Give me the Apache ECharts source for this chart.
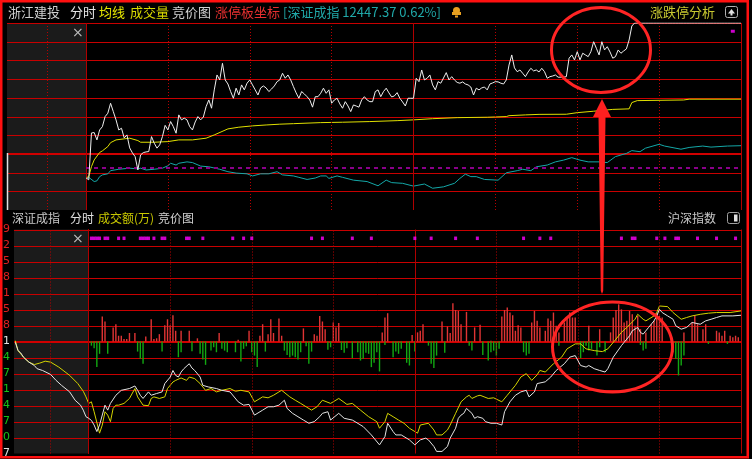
<!DOCTYPE html>
<html>
<head>
<meta charset="utf-8">
<script src="https://cdn.jsdelivr.net/npm/echarts@6.0.0/dist/echarts.min.js"></script>
<style>
html,body{margin:0;padding:0;background:#000;}
#chart{width:752px;height:459px;}
</style>
</head>
<body>
<div id="chart"></div>
<script>
// ================= DATA =================
// Top panel: 浙江建投 change vs previous close (%), one value per minute, 0 = 09:30 ... 240 = 15:00
const priceChange = [
 -1.83,-1.98,1.60,1.63,1.07,1.83,2.08,2.85,3.11,3.87,
 3.23,2.60,1.83,1.96,1.22,1.45,0.46,0.08,-0.21,-1.22,
 -0.08,0.10,0.15,0.18,1.32,0.82,0.44,0.69,1.32,2.18,
 1.83,2.47,2.08,1.58,2.98,2.60,2.73,2.60,2.08,1.83,
 2.44,2.85,2.60,2.82,3.61,4.12,3.49,4.89,6.03,5.65,
 6.92,5.65,5.34,4.76,4.25,5.02,4.50,5.27,4.89,5.40,
 5.65,5.27,4.89,4.50,5.04,5.19,5.04,4.76,4.96,5.19,
 5.52,5.65,6.16,5.78,6.03,5.65,5.14,4.66,4.25,4.76,
 4.58,4.37,4.12,3.57,4.37,4.37,4.63,5.02,4.63,4.89,
 3.87,4.12,4.25,3.82,3.49,3.99,3.66,3.23,3.74,3.66,
 3.57,4.12,4.37,4.12,3.99,3.99,4.76,4.89,4.37,4.76,
 5.02,4.66,4.35,4.43,4.68,4.25,3.97,3.66,4.25,4.25,
 4.25,5.78,5.52,6.41,5.65,5.78,6.03,5.27,4.89,5.52,
 5.40,5.80,6.21,5.65,5.90,5.65,5.46,5.40,5.50,5.34,
 5.27,5.11,4.50,5.02,4.89,5.04,5.11,4.89,5.34,5.42,
 5.52,5.50,5.40,5.34,5.65,6.79,7.56,6.57,6.28,6.41,
 6.16,5.90,6.26,6.54,6.34,6.41,6.26,6.54,6.28,5.78,
 5.90,5.95,6.03,5.86,5.86,5.86,5.90,7.31,7.56,7.18,
 7.81,7.18,7.69,7.56,7.43,7.81,8.57,8.07,7.56,8.57,
 7.94,8.19,7.79,7.31,7.43,7.94,7.69,7.86,8.02,8.70,
 9.77,10.00,10.00,10.00,10.00,10.00,10.00,10.00,10.00,10.00,
 10.00,10.00,10.00,10.00,10.00,10.00,10.00,10.00,10.00,10.00,
 10.00,10.00,10.00,10.00,10.00,10.00,10.00,10.00,10.00,10.00,
 10.00,10.00,10.00,10.00,10.00,10.00,10.00,10.00,10.00,10.00,
 10.00
];
// 均线 (average price, % vs previous close): [minute, value]
const avgPrice = [
 [0,-1.83],[1,-1.73],[2,-0.97],[3,-0.46],[5,0.11],[6,0.23],[8,0.56],[9,0.86],[11,1.07],[14,1.15],
 [16,1.20],[19,1.02],[20,0.89],[25,0.89],[30,0.94],[34,1.07],[39,1.07],[44,1.20],[47,1.45],[52,1.91],
 [56,2.04],[61,2.14],[66,2.21],[71,2.27],[76,2.31],[86,2.39],[94,2.42],[104,2.47],[114,2.54],[120,2.60],
 [127,2.69],[136,2.77],[147,2.80],[154,2.85],[155,2.92],[161,2.98],[166,3.02],[176,3.03],[180,3.15],[186,3.26],
 [193,3.40],[199,3.44],[200,3.92],[202,4.07],[219,4.12],[221,4.18],[240,4.18]
];
// 深证成指 change (%): [minute, value]
const indexChange = [
 [0,-0.31],[1,-0.28],[3,-0.40],[4,-0.38],[5,-0.26],[6,-0.21],[8,-0.18],[9,-0.09],[12,-0.05],[16,-0.02],
 [19,-0.04],[20,-0.02],[22,-0.07],[25,-0.05],[28,-0.02],[30,0.05],[31,0.12],[33,0.07],[34,0.12],[37,0.16],
 [39,0.14],[42,0.04],[45,0.02],[49,-0.05],[52,-0.12],[55,-0.16],[59,-0.18],[61,-0.24],[64,-0.18],[67,-0.18],
 [70,-0.12],[72,-0.21],[76,-0.24],[78,-0.28],[81,-0.34],[84,-0.30],[86,-0.24],[88,-0.24],[89,-0.31],[92,-0.24],
 [94,-0.28],[98,-0.36],[103,-0.40],[107,-0.52],[110,-0.36],[112,-0.43],[116,-0.45],[120,-0.53],[124,-0.47],[127,-0.59],
 [131,-0.55],[135,-0.45],[137,-0.31],[139,-0.19],[141,-0.26],[143,-0.26],[146,-0.34],[151,-0.36],[154,-0.15],[158,-0.09],
 [160,-0.05],[163,-0.09],[165,0.02],[169,0.07],[172,0.16],[175,0.21],[178,0.28],[181,0.21],[184,0.16],[188,0.16],
 [191,0.14],[194,0.31],[198,0.40],[200,0.48],[203,0.45],[205,0.55],[210,0.66],[212,0.61],[218,0.52],[221,0.57],
 [226,0.61],[229,0.58],[235,0.61],[240,0.62]
];
const topMarker = [[237, 9.37]];

// Bottom panel (negative minutes = call auction area)
const whiteLine = [
 [-27,-0.05],[-26,-0.57],[-25,-0.71],[-24,-0.98],[-22,-1.29],[-20,-1.50],[-19,-1.70],[-17,-1.81],[-14,-2.06],[-12,-2.43],
 [-10,-2.74],[-7,-3.15],[-5,-3.67],[-3,-3.98],[-2,-4.29],[-1,-4.70],
 [0,-4.80],[1,-4.93],[2,-5.22],[3,-5.63],[4,-5.22],[6,-3.98],[7,-4.29],[8,-3.87],[10,-3.36],[12,-3.05],
 [15,-2.94],[17,-2.78],[18,-3.05],[19,-3.36],[20,-3.56],[22,-3.15],[23,-3.36],[25,-3.25],[27,-3.15],[28,-2.63],
 [30,-2.22],[31,-1.81],[32,-2.12],[33,-2.22],[34,-1.91],[35,-1.70],[37,-1.39],[38,-1.66],[39,-1.81],[41,-2.22],
 [42,-2.74],[44,-2.84],[47,-2.94],[49,-3.05],[52,-3.15],[55,-3.77],[57,-3.98],[59,-3.93],[61,-4.60],[64,-4.29],
 [66,-4.08],[68,-4.08],[70,-3.98],[72,-3.67],[73,-4.18],[75,-4.49],[77,-4.70],[79,-4.91],[81,-5.11],[83,-5.01],
 [85,-4.70],[86,-4.49],[88,-4.39],[89,-4.91],[92,-4.49],[94,-4.80],[97,-4.91],[98,-5.01],[101,-5.32],[104,-5.84],
 [107,-6.46],[109,-5.94],[110,-5.11],[112,-5.63],[113,-5.84],[115,-5.84],[118,-6.15],[120,-6.46],[122,-6.15],[124,-6.04],
 [125,-6.15],[127,-6.56],[128,-6.87],[130,-6.87],[132,-6.56],[133,-6.04],[135,-5.42],[136,-4.80],[137,-4.60],[138,-4.49],
 [139,-4.18],[141,-4.49],[142,-4.80],[143,-4.70],[145,-4.80],[146,-5.01],[148,-5.11],[150,-5.11],[152,-5.22],[153,-4.39],
 [155,-3.77],[157,-3.36],[159,-3.15],[161,-3.05],[162,-3.46],[164,-3.15],[165,-2.63],[168,-2.52],[170,-2.22],[172,-1.81],
 [175,-1.39],[177,-0.98],[179,-0.88],[181,-1.50],[183,-1.60],[184,-1.50],[186,-1.70],[188,-1.81],[190,-1.91],[191,-1.70],
 [193,-0.98],[196,-0.26],[197,-0.05],[199,0.36],[200,0.67],[202,0.88],[203,0.57],[204,0.46],[206,0.88],[208,1.29],
 [209,1.60],[210,2.01],[211,1.81],[213,1.60],[215,1.39],[216,0.98],[218,0.77],[220,0.88],[222,1.19],[225,1.08],
 [227,1.29],[229,1.39],[231,1.50],[233,1.60],[237,1.60],[240,1.64]
];
const yellowLine = [
 [-27,0.05],[-26,-0.57],[-24,-0.98],[-22,-1.29],[-20,-1.44],[-18,-1.35],[-16,-1.23],[-14,-1.29],[-11,-1.60],[-7,-2.12],
 [-4,-2.63],[-2,-3.11],[-1,-3.46],
 [0,-3.87],[1,-3.77],[2,-4.39],[4,-5.73],[5,-5.22],[6,-4.39],[7,-4.60],[8,-5.01],[9,-4.18],[10,-3.98],[11,-3.98],
 [13,-3.87],[15,-3.56],[17,-2.94],[18,-3.46],[20,-3.98],[22,-4.01],[23,-3.56],[24,-3.46],[26,-3.56],[28,-3.46],
 [29,-2.94],[31,-2.53],[32,-2.43],[34,-2.28],[36,-2.43],[37,-2.22],[39,-2.32],[41,-2.63],[43,-3.05],[45,-2.94],
 [47,-3.15],[49,-3.05],[52,-2.94],[54,-3.11],[56,-3.05],[59,-3.15],[61,-3.77],[64,-3.46],[66,-3.52],[68,-3.36],
 [70,-3.15],[71,-3.05],[74,-3.46],[76,-3.67],[78,-3.87],[80,-4.08],[82,-4.29],[84,-4.08],[86,-3.67],[89,-3.87],
 [92,-3.56],[95,-3.93],[97,-3.87],[100,-4.29],[103,-4.70],[106,-5.01],[107,-5.42],[109,-5.01],[110,-4.49],[112,-4.70],
 [114,-4.91],[116,-5.11],[118,-5.42],[121,-5.73],[122,-5.22],[125,-5.11],[127,-5.53],[128,-5.84],[130,-5.84],[132,-5.53],
 [133,-5.22],[135,-4.49],[137,-3.77],[139,-3.46],[140,-3.36],[141,-3.56],[143,-3.40],[144,-3.36],[147,-3.56],[149,-3.52],
 [152,-3.77],[154,-3.36],[157,-2.74],[159,-2.22],[161,-2.01],[163,-2.43],[165,-2.08],[166,-1.81],[168,-1.91],[171,-1.39],
 [174,-0.98],[176,-0.46],[179,-0.15],[181,-0.15],[183,-0.46],[186,-0.57],[189,-0.63],[191,-0.46],[194,0.15],[196,0.57],
 [198,0.88],[201,1.39],[202,1.70],[204,1.39],[205,1.29],[208,1.60],[209,1.81],[210,2.22],[213,2.18],[215,1.81],
 [218,1.39],[220,1.50],[222,1.60],[225,1.70],[228,1.77],[231,1.81],[236,1.81],[240,1.91]
];
const upBars = [
 [5,1.56],[6,1.25],[9,0.88],[10,1.08],[11,0.36],[12,0.36],[13,0.15],[14,0.15],[15,0.53],[17,0.53],
 [21,0.32],[23,1.39],[24,0.15],[25,0.20],[26,0.46],[28,1.02],[29,1.39],[30,1.02],[31,1.64],[32,0.67],
 [34,0.67],[37,0.67],[40,0.20],[48,0.53],[55,0.11],[59,0.67],[63,0.36],[64,1.08],[66,0.46],[67,1.39],
 [68,0.53],[70,1.44],[71,0.36],[79,0.82],[83,0.46],[84,0.36],[85,1.60],[86,1.25],[87,0.77],[90,1.19],
 [91,0.88],[92,1.15],[108,0.57],[109,1.50],[110,1.77],[119,0.40],[121,0.57],[122,0.67],[123,1.08],[130,1.25],
 [132,0.94],[133,0.53],[134,2.39],[135,1.97],[136,1.91],[137,1.08],[139,1.85],[142,0.88],[144,1.04],[148,0.05],
 [152,1.56],[153,1.97],[154,2.12],[155,1.81],[156,1.64],[157,0.67],[158,1.02],[159,0.88],[163,1.19],[164,1.91],
 [165,1.29],[166,0.88],[168,0.67],[169,1.44],[170,1.29],[171,1.81],[172,0.98],[173,0.57],[175,1.19],[176,1.50],
 [177,1.81],[178,1.50],[179,1.50],[184,0.98],[188,0.77],[192,0.57],[193,1.50],[194,1.97],[195,2.32],[196,2.01],
 [197,1.19],[198,1.29],[199,1.91],[200,1.70],[201,0.98],[202,1.60],[203,0.77],[205,0.57],[207,1.08],[208,1.29],
 [209,1.81],[210,1.60],[211,1.50],[219,0.57],[222,1.19],[223,1.64],[224,1.08],[226,0.77],[227,1.08],[231,0.67],
 [232,0.57],[233,0.36],[234,0.67],[236,0.36],[237,0.26],[238,0.36],[239,0.26]
];
const downBars = [
 [1,-0.26],[2,-0.42],[3,-1.60],[4,-0.77],[7,-0.77],[18,-0.63],[19,-1.08],[20,-1.39],[27,-0.63],[33,-0.98],
 [34,-0.67],[38,-0.61],[41,-0.77],[42,-1.13],[43,-1.46],[45,-0.57],[46,-0.36],[47,-0.67],[49,-0.46],[50,-0.57],
 [51,-0.67],[54,-0.67],[56,-1.25],[57,-0.46],[58,-0.30],[60,-0.67],[61,-0.88],[62,-1.60],[65,-0.63],[72,-0.57],
 [73,-0.84],[74,-0.98],[75,-0.88],[76,-0.98],[77,-1.13],[78,-0.67],[80,-0.30],[81,-1.39],[82,-0.63],[88,-0.51],
 [89,-0.36],[93,-0.53],[94,-0.71],[95,-0.42],[97,-1.04],[98,-0.05],[99,-0.67],[100,-1.19],[101,-1.08],[102,-0.71],
 [103,-0.77],[104,-1.60],[105,-1.33],[106,-0.67],[107,-1.87],[109,-0.22],[112,-0.98],[113,-0.63],[114,-0.77],[115,-0.46],
 [117,-1.33],[118,-1.50],[120,-0.63],[125,-0.26],[126,-1.39],[127,-1.66],[128,-0.88],[131,-0.71],[140,-0.26],[141,-0.57],
 [145,-0.84],[147,-1.19],[148,-0.67],[149,-0.57],[150,-0.88],[151,-0.46],[160,-0.67],[161,-0.88],[162,-0.77],[173,-0.26],
 [181,-1.04],[182,-0.67],[183,-0.26],[184,-0.57],[185,-0.46],[187,-0.88],[188,-0.36],[190,-0.67],[203,-0.22],[204,-0.57],
 [205,-0.46],[215,-0.67],[216,-1.08],[217,-2.12],[218,-1.50],[219,-0.88],[228,-0.15],[235,-0.15]
];
const markerMinutes = [1,2,3,4,6,7,11,13,19,20,21,22,24,27,28,36,37,42,53,57,60,82,86,97,104,120,126,135,143,160,166,170,196,200,201,209,212,216,217,224,231,238];
const markerLevel = 6.45;
const bottomTickDigits = ['9','2','5','8','1','5','8','1','4','7','1','4','7','0','7'];
const topGridLevels = [7, 6, 5, 4, 3, 2, 1, -1, -2];
const bottomGridLevels = [7, 6, 5, 4, 3, 2, 1, -1, -2, -3, -4, -5, -6];
const timeLines = [-14.3, 0, 30, 60, 90, 120, 150, 180, 210, 240];
const solidTimeLines = [0, 120, 240];

// ================= CHART =================
const TOP_XMIN = -28.95, BOT_XMIN = -27.48, XMAX = 240;
const RED_GRID = '#c80000';
const CJK = '"Noto Sans CJK SC", sans-serif';

function verticalMarkLine() {
  return {
    silent: true, symbol: ['none', 'none'], label: {show: false}, animation: false,
    lineStyle: {color: '#b80000', width: 1, type: [1, 2]},
    data: timeLines.map(t => solidTimeLines.includes(t)
      ? {xAxis: t, lineStyle: {type: 'solid', color: '#b00000', width: 1}}
      : {xAxis: t})
  };
}

const chart = echarts.init(document.getElementById('chart'));
const option = {
  backgroundColor: '#000',
  animation: false,
  grid: [
    {left: 7, right: 11, top: 23, height: 187},
    {left: 11, right: 11, top: 229.5, height: 226}
  ],
  xAxis: [
    {gridIndex: 0, type: 'value', min: TOP_XMIN, max: XMAX, show: false},
    {gridIndex: 1, type: 'value', min: BOT_XMIN, max: XMAX, show: false}
  ],
  yAxis: [
    {gridIndex: 0, type: 'value', min: -30 / 7, max: 10, show: false},
    {gridIndex: 0, type: 'value', min: -3, max: 7, interval: 1, show: false},
    {gridIndex: 0, type: 'value', min: -1.209, max: 4.11, show: false},
    {gridIndex: 1, type: 'value', min: -7, max: 7, interval: 1,
      axisLine: {show: true, lineStyle: {color: '#a00000'}}, axisTick: {show: false},
      axisLabel: {show: true, margin: 4, fontSize: 11, fontFamily: 'DejaVu Sans',
        formatter: v => bottomTickDigits[7 - Math.round(v)],
        color: v => { const n = Number(v); return n > 0 ? '#e02020' : (n < 0 && n > -7 ? '#18c018' : '#e0e0e0'); }},
      splitLine: {show: false}}
  ],
  series: [
    {name: 'vlines-top', type: 'line', xAxisIndex: 0, yAxisIndex: 0, data: [], z: 1, markLine: verticalMarkLine()},
    {name: 'vlines-bottom', type: 'line', xAxisIndex: 1, yAxisIndex: 3, data: [], z: 1, markLine: verticalMarkLine()},
    {name: '深证成指', type: 'line', xAxisIndex: 0, yAxisIndex: 2, data: indexChange, symbol: 'none', z: 3,
      lineStyle: {color: '#14a8a8', width: 1},
      markLine: {silent: true, symbol: ['none', 'none'], label: {show: false}, animation: false,
        lineStyle: {color: '#8a008a', width: 2, type: [4, 4]},
        data: [[{xAxis: 0, yAxis: 0}, {xAxis: XMAX, yAxis: 0}]]}},
    {name: '均线', type: 'line', xAxisIndex: 0, yAxisIndex: 0, data: avgPrice, symbol: 'none', z: 4,
      lineStyle: {color: '#e0e000', width: 1}},
    {name: '浙江建投', type: 'line', xAxisIndex: 0, yAxisIndex: 0, data: priceChange.map((v, i) => [i, v]),
      symbol: 'none', z: 5, lineStyle: {color: '#eeeeee', width: 1}},
    {name: 'top-mark', type: 'scatter', xAxisIndex: 0, yAxisIndex: 0, data: topMarker,
      symbol: 'rect', symbolSize: [4, 3], itemStyle: {color: '#ff00ff'}, z: 6},
    {name: 'up', type: 'bar', xAxisIndex: 1, yAxisIndex: 3, data: upBars, barWidth: 1.4, barGap: '-100%',
      itemStyle: {color: '#e03434'}, z: 2},
    {name: 'down', type: 'bar', xAxisIndex: 1, yAxisIndex: 3, data: downBars, barWidth: 1.4, barGap: '-100%',
      itemStyle: {color: '#12a812'}, z: 2},
    {name: '成交额黄', type: 'line', xAxisIndex: 1, yAxisIndex: 3, data: yellowLine, symbol: 'none', z: 4,
      lineStyle: {color: '#d4d400', width: 1}},
    {name: '沪深指数', type: 'line', xAxisIndex: 1, yAxisIndex: 3, data: whiteLine, symbol: 'none', z: 5,
      lineStyle: {color: '#e4e4e4', width: 1}},
    {name: 'markers', type: 'scatter', xAxisIndex: 1, yAxisIndex: 3,
      data: markerMinutes.map(m => [m, markerLevel]), symbol: 'rect', symbolSize: [3, 3.5],
      itemStyle: {color: '#ff00ff'}, z: 6}
  ]
};
chart.setOption(option);

// ---- decorations positioned from the axes ----
const tl = chart.convertToPixel({xAxisIndex: 0, yAxisIndex: 1}, [TOP_XMIN, 7]);
const br = chart.convertToPixel({xAxisIndex: 0, yAxisIndex: 1}, [0, -3]);
const rightTop = chart.convertToPixel({xAxisIndex: 0, yAxisIndex: 1}, [XMAX, 7]);
const tl2 = chart.convertToPixel({xAxisIndex: 1, yAxisIndex: 3}, [BOT_XMIN, 7]);
const br2 = chart.convertToPixel({xAxisIndex: 1, yAxisIndex: 3}, [0, -7]);
const rightBot = chart.convertToPixel({xAxisIndex: 1, yAxisIndex: 3}, [XMAX, 7]);

function txt(x, y, text, fill, size) {
  return {type: 'text', x: x, y: y, z: 50, silent: true,
    style: {text: text, fill: fill, font: (size || 13) + 'px ' + CJK, verticalAlign: 'middle', align: 'left'}};
}
function hline(x1, x2, y, color, w) {
  return {type: 'line', z: -1, silent: true, shape: {x1: x1, y1: y, x2: x2, y2: y}, style: {stroke: color, lineWidth: w}};
}

const graphics = [
  {type: 'rect', z: -2, silent: true, shape: {x: tl[0], y: tl[1], width: br[0] - tl[0], height: br[1] - tl[1]}, style: {fill: '#1b1b1b'}},
  {type: 'rect', z: -2, silent: true, shape: {x: tl2[0], y: tl2[1], width: br2[0] - tl2[0], height: br2[1] - tl2[1]}, style: {fill: '#1b1b1b'}}
];
// horizontal grid lines, from the grid-unit axes
topGridLevels.forEach(v => {
  const y = Math.round(chart.convertToPixel({yAxisIndex: 1}, v)) + 0.5;
  graphics.push(hline(tl[0], rightTop[0], y, RED_GRID, 1));
});
{
  const y0 = Math.round(chart.convertToPixel({yAxisIndex: 0}, 0));
  graphics.push(hline(tl[0], rightTop[0], y0, '#d00000', 2));
}
bottomGridLevels.forEach(v => {
  const y = Math.round(chart.convertToPixel({yAxisIndex: 3}, v)) + 0.5;
  graphics.push(hline(tl2[0], rightBot[0], y, RED_GRID, 1));
});
{
  const y0 = Math.round(chart.convertToPixel({yAxisIndex: 3}, 0));
  graphics.push(hline(tl2[0], rightBot[0], y0, '#d00000', 2));
}

graphics.push(
  // header row 1
  txt(8, 12, '浙江建投', '#d0d0d0'),
  txt(70, 12, '分时', '#e6e6e6'),
  txt(99, 12, '均线', '#e8e800'),
  txt(130, 12, '成交量', '#d8d800'),
  txt(172, 12, '竞价图', '#d0d0d0'),
  txt(215, 12, '涨停板坐标', '#e83030'),
  txt(283, 12, '[深证成指 12447.37 0.62%]', '#20a8a8'),
  txt(650, 12, '涨跌停分析', '#c8c830'),
  // header row 2
  txt(12, 218, '深证成指', '#c8c8c8', 12),
  txt(70, 218, '分时', '#e0e0e0', 12),
  txt(98, 218, '成交额(万)', '#c8c800', 12),
  txt(158, 218, '竞价图', '#d0d0d0', 12),
  txt(668, 218, '沪深指数', '#c8c8c8', 12),
  // close marks
  {type: 'text', x: 72, y: 33, z: 50, silent: true, style: {text: '×', fill: '#bdbdbd', font: '14px DejaVu Sans', verticalAlign: 'middle'}},
  {type: 'text', x: 72, y: 239, z: 50, silent: true, style: {text: '×', fill: '#bdbdbd', font: '14px DejaVu Sans', verticalAlign: 'middle'}},
  // bell icon
  {type: 'circle', z: 50, silent: true, shape: {cx: 456.5, cy: 10.5, r: 3.5}, style: {fill: '#e8a020'}},
  {type: 'rect', z: 50, silent: true, shape: {x: 452, y: 12, width: 9, height: 3}, style: {fill: '#e8a020'}},
  {type: 'rect', z: 50, silent: true, shape: {x: 455, y: 15.5, width: 3, height: 2}, style: {fill: '#e8a020'}},
  // icon top right
  {type: 'rect', z: 50, silent: true, shape: {x: 725.5, y: 6.5, width: 12, height: 11, r: 2}, style: {fill: 'none', stroke: '#b0b0b0', lineWidth: 1}},
  {type: 'polygon', z: 50, silent: true, shape: {points: [[731.5, 9], [735, 13.5], [728, 13.5]]}, style: {fill: '#e0e0e0'}},
  {type: 'rect', z: 50, silent: true, shape: {x: 730.5, y: 13, width: 2, height: 2.5}, style: {fill: '#e0e0e0'}},
  // icon bottom right
  {type: 'rect', z: 50, silent: true, shape: {x: 727.5, y: 212.5, width: 12, height: 11, r: 2}, style: {fill: 'none', stroke: '#a0a0a0', lineWidth: 1}},
  {type: 'rect', z: 50, silent: true, shape: {x: 734, y: 214.5, width: 3.5, height: 7}, style: {fill: '#e0e0e0'}},
  // white auction bar at left of top panel
  {type: 'line', z: 50, silent: true, shape: {x1: 7.5, y1: 153, x2: 7.5, y2: 210}, style: {stroke: '#e0e0e0', lineWidth: 1.5}},
  // annotations
  {type: 'ellipse', z: 90, silent: true, shape: {cx: 601, cy: 50, rx: 49.5, ry: 42.5}, style: {fill: 'none', stroke: '#ff2424', lineWidth: 3}},
  {type: 'ellipse', z: 90, silent: true, shape: {cx: 612.5, cy: 347, rx: 60, ry: 45}, style: {fill: 'none', stroke: '#ff2424', lineWidth: 3}},
  {type: 'polygon', z: 90, silent: true, shape: {points: [[602, 99], [611, 117], [605.5, 117], [603.2, 291], [602, 294], [600.8, 291], [598.5, 117], [593, 117]]}, style: {fill: '#ff2020'}},
  // outer frame
  {type: 'rect', z: 100, silent: true, shape: {x: 1.25, y: 1.25, width: 746.5, height: 456}, style: {fill: 'none', stroke: '#ff1010', lineWidth: 2.5}}
);
chart.setOption({graphic: graphics});
</script>
</body>
</html>
